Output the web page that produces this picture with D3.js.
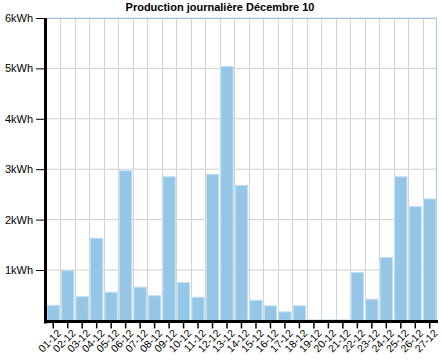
<!DOCTYPE html>
<html><head><meta charset="utf-8">
<script src="https://cdn.jsdelivr.net/npm/d3@7"></script>
<style>body{margin:0;background:#fff}svg{display:block}text{font-family:"Liberation Sans",Arial,sans-serif}</style>
</head><body>
<svg id="c" width="441" height="361"></svg>
<script>
const title = "Production journalière Décembre 10";
const days = ["01-12","02-12","03-12","04-12","05-12","06-12","07-12","08-12","09-12","10-12","11-12","12-12","13-12","14-12","15-12","16-12","17-12","18-12","19-12","20-12","21-12","22-12","23-12","24-12","25-12","26-12","27-12"];
const kwh = [0.30,0.99,0.47,1.63,0.56,2.97,0.66,0.49,2.85,0.75,0.46,2.90,5.04,2.68,0.40,0.29,0.17,0.29,0.01,0.01,0.01,0.95,0.42,1.25,2.85,2.26,2.41];
const yTicks = [1,2,3,4,5,6];
const yTickLabels = ["1kWh","2kWh","3kWh","4kWh","5kWh","6kWh"];

const svg = d3.select("#c");
const m = {l:46, r:4, t:18};
const W = 441 - m.l - m.r, H = 302.4;
const g = svg.append("g").attr("transform",`translate(${m.l},${m.t})`);
const x = d3.scaleBand().domain(days).range([0,W]).paddingInner(0.15).paddingOuter(0.075);
const xb = d3.scaleBand().domain(days).range([0,W]);
const y = d3.scaleLinear().domain([0,6]).range([H,0]);

// grid
g.selectAll(".hg").data(yTicks).enter().append("line")
  .attr("x1",0).attr("x2",W).attr("y1",d=>y(d)).attr("y2",d=>y(d))
  .attr("stroke","#cfcfcf").attr("stroke-width",1);
g.selectAll(".vg").data(days.slice(1)).enter().append("line")
  .attr("x1",d=>Math.round(xb(d))+0.5).attr("x2",d=>Math.round(xb(d))+0.5).attr("y1",0).attr("y2",H)
  .attr("stroke","#d4d4d4").attr("stroke-width",1);
// frame top/right
g.append("path").attr("d",`M0,0.5H${W-0.5}V${H}`).attr("fill","none").attr("stroke","#a9c5dc").attr("stroke-width",1);

// bars
g.selectAll(".bar").data(days).enter().append("rect")
  .attr("x",d=>x(d)).attr("width",x.bandwidth())
  .attr("y",(d,i)=>y(kwh[i])).attr("height",(d,i)=>H-y(kwh[i]))
  .attr("fill","#93c6e7").attr("stroke","#c4dff2").attr("stroke-width",1);

// y axis
const ya = d3.axisLeft(y).tickValues(yTicks).tickFormat((d,i)=>yTickLabels[i]).tickSize(8).tickPadding(3);
const yg = g.append("g").attr("transform","translate(-2,0)").call(ya);
yg.select(".domain").remove();
yg.selectAll("text").attr("font-size",11).attr("fill","#000");
g.append("line").attr("x1",-0.5).attr("x2",-0.5).attr("y1",0).attr("y2",H+3).attr("stroke","#000").attr("stroke-width",3);

// x axis
const xa = d3.axisBottom(x).tickSize(6).tickPadding(3);
const xg = g.append("g").attr("transform",`translate(0,${H+2})`).call(xa);
xg.select(".domain").remove();
xg.selectAll(".tick line").attr("stroke-width",1.5);
xg.selectAll("text").attr("font-size",10.5).attr("fill","#000")
  .attr("text-anchor","end").attr("dx","-0.2em").attr("dy","0.5em")
  .attr("transform","rotate(-45)");
g.append("line").attr("x1",-2).attr("x2",W+1).attr("y1",H+1).attr("y2",H+1).attr("stroke","#000").attr("stroke-width",3);

svg.append("text").attr("x",220).attr("y",11).attr("text-anchor","middle")
  .attr("font-size",11).attr("font-weight","bold").text(title);
</script>
</body></html>
